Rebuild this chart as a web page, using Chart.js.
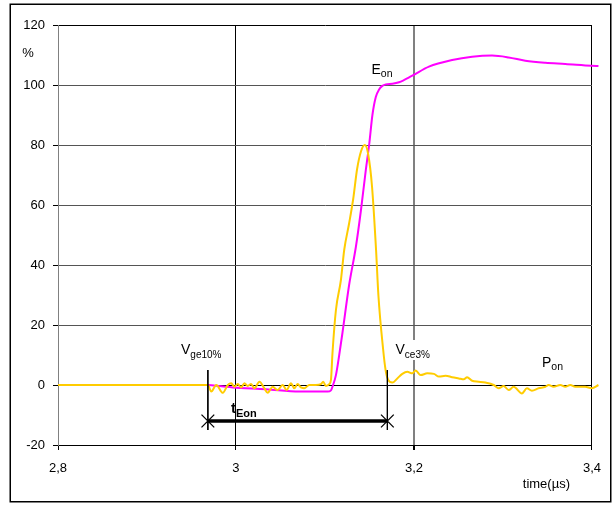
<!DOCTYPE html>
<html><head><meta charset="utf-8">
<script src="https://cdn.jsdelivr.net/npm/chart.js@4/dist/chart.umd.min.js"></script>
<style>html,body{margin:0;padding:0;background:#fff}canvas{display:block}</style>
</head><body>
<canvas id="c" width="612" height="505"></canvas>
<script>
// ---- data ----
const pOnTime = [2.8, 2.9684, 2.9722, 2.9778, 2.9852, 2.9908, 2.9946, 2.9983, 3.0020, 3.0058, 3.0095, 3.0132, 3.0170, 3.0207, 3.0263, 3.0319, 3.0356, 3.0412, 3.0468, 3.0524, 3.0569, 3.0618, 3.0655, 3.0692, 3.0730, 3.0767, 3.0824, 3.0898, 3.0955, 3.0980, 3.1010, 3.1048, 3.1067, 3.1085, 3.1123, 3.1179, 3.1216, 3.1272, 3.1317, 3.1361, 3.1406, 3.1447, 3.1485, 3.1529, 3.1574, 3.1600, 3.1653, 3.1681, 3.1709, 3.1757, 3.1813, 3.1869, 3.1925, 3.1981, 3.2019, 3.2075, 3.2149, 3.2224, 3.2280, 3.2355, 3.2429, 3.2504, 3.2560, 3.2597, 3.2653, 3.2728, 3.2803, 3.2896, 3.2952, 3.3008, 3.3064, 3.3120, 3.3213, 3.3269, 3.3325, 3.3401, 3.3476, 3.3513, 3.3569, 3.3644, 3.3700, 3.3756, 3.3812, 3.3923, 3.3998, 3.4073];
const pOnValues = [0, 0, -2.2, 0, -2.6, 0, 0.6, -0.6, 0.3, -0.8, 0.6, -0.3, 0.3, -1.1, 1.1, -1.1, -2.6, -0.6, -1.7, 0, -1.7, 0.6, -1.1, 0.3, -0.8, -1.1, 0, 0, 0.3, 1.1, -0.3, 0.3, 1.7, 11, 25, 35, 45, 54, 62, 72, 78, 80, 77, 66, 45, 30, 12, 5, 1.8, 0.8, 2.2, 3.7, 4.4, 3.9, 4.8, 3.3, 3.9, 3.7, 2.8, 3.1, 2.6, 2.2, 1.9, 2.6, 1.4, 1.1, 0.8, 0, -1.1, -0.3, -1.7, -0.6, -2.8, -1.1, -1.9, -1.1, -0.6, 0, -0.6, 0, -0.6, 0, -0.6, -0.6, -1.1, 0];
const eOnTime = [2.9684, 2.9964, 3.0338, 3.0712, 3.1030, 3.1067, 3.1085, 3.1123, 3.1160, 3.1197, 3.1272, 3.1347, 3.1403, 3.1459, 3.1496, 3.1533, 3.1571, 3.1608, 3.1645, 3.1683, 3.1757, 3.1832, 3.1981, 3.2168, 3.2429, 3.2653, 3.2877, 3.3064, 3.3251, 3.3476, 3.3700, 3.3998, 3.4073];
const eOnValues = [0, -0.8, -1.4, -2.2, -2.2, -1.8, -0.5, 3.3, 10, 17.5, 33.5, 46, 58, 71.7, 80, 90, 96, 98.5, 99.7, 100.2, 100.4, 100.9, 103.1, 106.1, 108.3, 109.4, 109.8, 109.2, 108.1, 107.4, 107, 106.4, 106.3];
const bracketTime = [2.9684, 3.1701];
const bracketValue = -12;
const markerRange = [5, -15];
const yTicks = [-20, 0, 20, 40, 60, 80, 100, 120];
const xTickValues = [2.8, 3.0, 3.2, 3.4];
const xTickLabels = ['2,8', '3', '3,2', '3,4'];

const FONT = '"Liberation Sans", Arial, sans-serif';
Chart.defaults.font.family = FONT;
Chart.defaults.font.size = 13;
Chart.defaults.color = '#000';

const pts = (xs, ys) => xs.map((x, i) => ({x, y: ys[i]}));
const near = (a, b) => Math.abs(a - b) < 1e-6;

function drawSub(ctx, main, sub, x, base, mainFont, subFont, dy) {
  ctx.font = mainFont;
  ctx.fillText(main, x, base);
  const w = ctx.measureText(main).width;
  ctx.font = subFont;
  ctx.fillText(sub, x + w, base + dy);
  return w + ctx.measureText(sub).width;
}

const decor = {
  id: 'decor',
  afterDraw(chart) {
    const ctx = chart.ctx;
    ctx.save();
    ctx.fillStyle = '#000';
    ctx.textBaseline = 'alphabetic';
    ctx.textAlign = 'left';
    // white box behind Vce3% label
    ctx.fillStyle = '#fff';
    ctx.fillRect(393, 340, 40, 20);
    ctx.fillStyle = '#000';
    drawSub(ctx, 'V', 'ge10%', 181, 354, '14px ' + FONT, '10px ' + FONT, 3.5);
    drawSub(ctx, 'V', 'ce3%', 395.5, 354, '14px ' + FONT, '10px ' + FONT, 3.5);
    drawSub(ctx, 'E', 'on', 371.5, 73.5, '14px ' + FONT, '10.5px ' + FONT, 3.5);
    drawSub(ctx, 'P', 'on', 542, 366.5, '14px ' + FONT, '10.5px ' + FONT, 3.5);
    drawSub(ctx, 't', 'Eon', 231, 413, 'bold 15px ' + FONT, 'bold 11px ' + FONT, 3.5);
    ctx.font = '13px ' + FONT;
    ctx.textAlign = 'center';
    ctx.fillText('%', 28, 57);
    ctx.textAlign = 'right';
    ctx.fillText('time(\u00b5s)', 570, 488);
    // outer frame
    ctx.strokeStyle = '#000';
    ctx.lineWidth = 1.5;
    ctx.strokeRect(10.25, 4.25, 600.5, 497.5);
    ctx.restore();
  }
};

new Chart(document.getElementById('c'), {
  type: 'scatter',
  data: {
    datasets: [
      {label: 'Pon', data: pts(pOnTime, pOnValues), showLine: true, borderColor: '#FFCC00', borderWidth: 2, pointRadius: 0, cubicInterpolationMode: 'monotone', clip: false, order: 1},
      {label: 'Eon', data: pts(eOnTime, eOnValues), showLine: true, borderColor: '#FF00FF', borderWidth: 2, pointRadius: 0, cubicInterpolationMode: 'monotone', clip: false, order: 2},
      {label: 'tEon', data: pts(bracketTime, [bracketValue, bracketValue]), showLine: true, borderColor: '#000', backgroundColor: '#000', borderWidth: 3.5, pointStyle: 'crossRot', pointRadius: 9, pointBorderWidth: 1.3, pointBorderColor: '#000', clip: false, order: 0},
      {label: 'm1', data: pts([bracketTime[0], bracketTime[0]], markerRange), showLine: true, borderColor: '#000', borderWidth: 1, pointRadius: 0, clip: false, order: 0},
      {label: 'm2', data: pts([bracketTime[1], bracketTime[1]], markerRange), showLine: true, borderColor: '#000', borderWidth: 1, pointRadius: 0, clip: false, order: 0}
    ]
  },
  options: {
    responsive: false,
    animation: false,
    devicePixelRatio: 1,
    layout: {padding: {top: 25, right: 19, left: 0, bottom: 0}},
    plugins: {legend: {display: false}, tooltip: {enabled: false}},
    scales: {
      x: {
        type: 'linear', min: 2.8, max: 3.4,
        afterBuildTicks: s => { s.ticks = xTickValues.map(v => ({value: v})); },
        afterFit: s => { s.height = 60; },
        ticks: {padding: 11, maxRotation: 0, autoSkip: false, callback: (v, i) => xTickLabels[i], font: {size: 13}},
        grid: {
          drawTicks: true, tickLength: 5, tickColor: '#000',
          color: c => near(c.tick.value, 3.2) ? '#808080' : (near(c.tick.value, 2.8) ? 'rgba(0,0,0,0)' : '#000'),
          lineWidth: c => near(c.tick.value, 3.2) ? 2 : 1
        },
        border: {color: '#000', width: 1}
      },
      y: {
        type: 'linear', min: -20, max: 120,
        afterBuildTicks: s => { s.ticks = yTicks.map(v => ({value: v})); },
        afterFit: s => { s.width = 58; },
        ticks: {padding: 8, font: {size: 13}},
        grid: {
          drawTicks: true, tickLength: 5, tickColor: '#000',
          color: c => (c.tick.value === 0 || c.tick.value === 120) ? '#000' : (c.tick.value === -20 ? 'rgba(0,0,0,0)' : '#555'),
          lineWidth: 1
        },
        border: {color: '#808080', width: 1}
      }
    }
  },
  plugins: [decor]
});
</script>
</body></html>
